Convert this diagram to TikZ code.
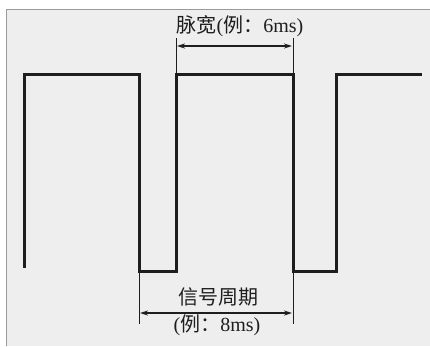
\documentclass[tikz,border=0pt]{standalone}
\usepackage{fontspec}
\setmainfont{Liberation Serif}
\newfontfamily\cjk{Noto Sans CJK SC}
\usetikzlibrary{arrows.meta}
\definecolor{bg}{HTML}{EEEEEE}
\definecolor{frame}{HTML}{9A9A9A}
\definecolor{ink}{HTML}{1E1E1E}
\tikzset{
  wave/.style={line width=3pt, ink, line join=miter},
  ext/.style={line width=1pt, ink},
  dim/.style={line width=1.4pt, ink, {Stealth[length=8pt,width=5pt]}-{Stealth[length=8pt,width=5pt]}},
  lbl/.style={font=\fontsize{20}{22}\selectfont, text=ink, inner sep=0pt}
}
\begin{document}
\begin{tikzpicture}[x=1pt,y=-1pt]
\useasboundingbox (0,0) rectangle (430,346);
\fill[white] (0,0) rectangle (430,346);
\fill[bg] (6,9) rectangle (430,346);
\draw[frame, line width=0.8pt] (6,346) -- (6,9) -- (430,9);
% waveform
\coordinate (s0) at (24,268);
\coordinate (a1) at (24,74);
\coordinate (a2) at (139,74);
\coordinate (a3) at (139,271);
\coordinate (a4) at (176,271);
\coordinate (a5) at (176,74);
\coordinate (a6) at (293,74);
\coordinate (a7) at (293,271);
\coordinate (a8) at (336,271);
\coordinate (a9) at (336,74);
\coordinate (a10) at (422,74);
\draw[wave] (s0) -- (a1) -- (a2) -- (a3) -- (a4) -- (a5) -- (a6) -- (a7) -- (a8) -- (a9) -- (a10);
% extension lines
\coordinate (t1) at (176,38);
\coordinate (t2) at (293,38);
\coordinate (b1) at (139,324);
\coordinate (b2) at (293,324);
\draw[ext] (a5) -- (t1);
\draw[ext] (a6) -- (t2);
\draw[ext] (a3) -- (b1);
\draw[ext] (a7) -- (b2);
% dimension arrows
\coordinate (p1) at (177,46);
\coordinate (p2) at (292,46);
\coordinate (q1) at (140,313);
\coordinate (q2) at (292,313);
\draw[dim] (p1) -- (p2);
\draw[dim] (q1) -- (q2);
% labels
\node[lbl] (pw) at (240,26) {{\cjk 脉宽}({\cjk 例：}6ms)};
\node[lbl] (per) at (218,297) {\cjk 信号周期};
\node[lbl] (ex) at (217,325) {({\cjk 例：}8ms)};
\end{tikzpicture}
\end{document}
